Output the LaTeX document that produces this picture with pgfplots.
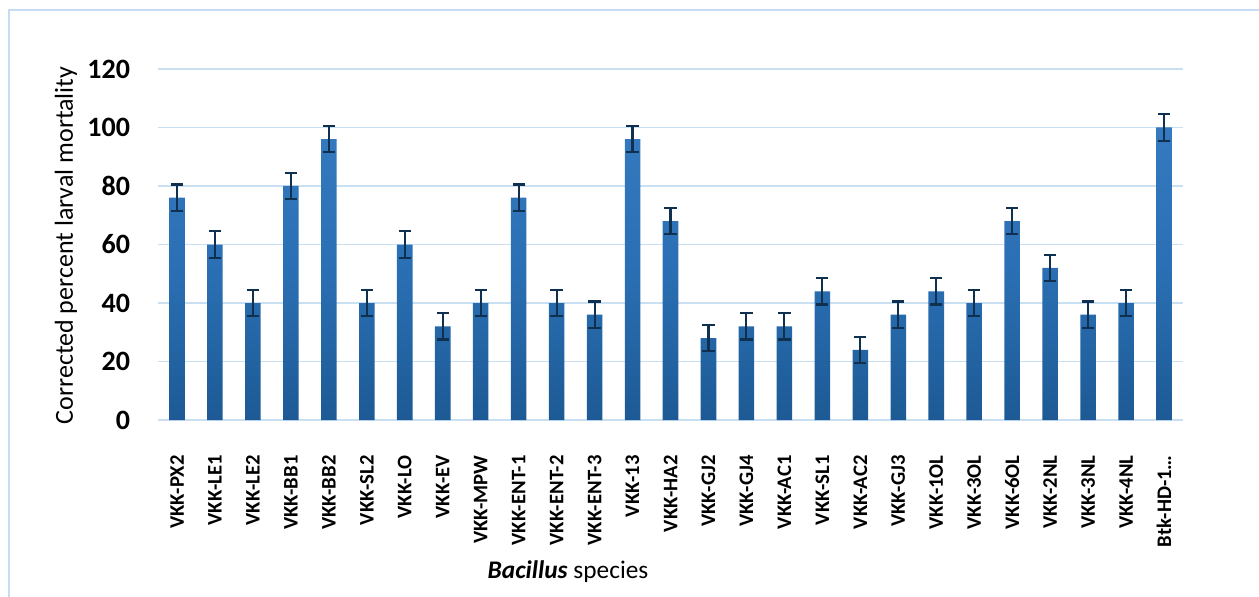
\documentclass[border=0pt]{standalone}
\usepackage{pgfplots}
\pgfplotsset{compat=1.18}
\usepackage{fontspec}
\setmainfont{Carlito}
\definecolor{gridblue}{HTML}{C9DFF2}
\definecolor{framecol}{HTML}{C5DCF2}
\definecolor{bartop}{HTML}{3579BE}
\definecolor{barmid}{HTML}{2A6FB3}
\definecolor{barbot}{HTML}{1D5A95}
\definecolor{errcol}{HTML}{10304F}
\begin{document}
\begin{tikzpicture}[x=1pt,y=1pt]
\useasboundingbox (-118.5,-132) rectangle (825.75,315);
\draw[framecol, line width=1.2pt] (-111.75,-140) -- (-111.75,307.5) -- (840,307.5);
\begin{axis}[
  at={(0,0)}, anchor=south west,
  scale only axis,
  width=768.75pt, height=263.25pt,
  xmin=-0.5, xmax=26.5,
  ymin=0, ymax=120,
  ytick={0,20,...,120},
  xtick={0,...,26},
  xticklabels={VKK-PX2,VKK-LE1,VKK-LE2,VKK-BB1,VKK-BB2,VKK-SL2,VKK-LO,VKK-EV,VKK-MPW,VKK-ENT-1,VKK-ENT-2,VKK-ENT-3,VKK-13,VKK-HA2,VKK-GJ2,VKK-GJ4,VKK-AC1,VKK-SL1,VKK-AC2,VKK-GJ3,VKK-1OL,VKK-3OL,VKK-6OL,VKK-2NL,VKK-3NL,VKK-4NL,Btk-HD-1…},
  axis line style={draw=none},
  major tick length=0pt,
  ymajorgrids, grid style={gridblue, line width=1pt},
  /pgf/number format/assume math mode=true,
  yticklabel style={font=\fontsize{21}{21}\selectfont\bfseries, anchor=east},
  yticklabel shift=17.5pt,
  xticklabel style={font=\fontsize{15.5}{15.5}\selectfont\bfseries, rotate=90, anchor=east},
  xticklabel shift=23pt,
  clip=false,
]
\addplot[ybar, bar width=0.41, draw=none, top color=bartop, bottom color=barbot, middle color=barmid,
  error bars/.cd, y dir=both, y explicit,
  error bar style={errcol, line width=1.6pt},
  error mark options={errcol, rotate=90, mark size=4.6pt, line width=1.6pt}]
coordinates {
(0,76) +- (0,4.5)
(1,60) +- (0,4.5)
(2,40) +- (0,4.5)
(3,80) +- (0,4.5)
(4,96) +- (0,4.5)
(5,40) +- (0,4.5)
(6,60) +- (0,4.5)
(7,32) +- (0,4.5)
(8,40) +- (0,4.5)
(9,76) +- (0,4.5)
(10,40) +- (0,4.5)
(11,36) +- (0,4.5)
(12,96) +- (0,4.5)
(13,68) +- (0,4.5)
(14,28) +- (0,4.5)
(15,32) +- (0,4.5)
(16,32) +- (0,4.5)
(17,44) +- (0,4.5)
(18,24) +- (0,4.5)
(19,36) +- (0,4.5)
(20,44) +- (0,4.5)
(21,40) +- (0,4.5)
(22,68) +- (0,4.5)
(23,52) +- (0,4.5)
(24,36) +- (0,4.5)
(25,40) +- (0,4.5)
(26,100) +- (0,4.5)
};
\end{axis}
\node[font=\fontsize{19.5}{19.5}\selectfont, rotate=90] at (-69,130.9) {Corrected percent larval mortality};
\node[font=\fontsize{19}{19}\selectfont] at (307.5,-114) {\textbf{\textit{Bacillus}} species};
\end{tikzpicture}
\end{document}
